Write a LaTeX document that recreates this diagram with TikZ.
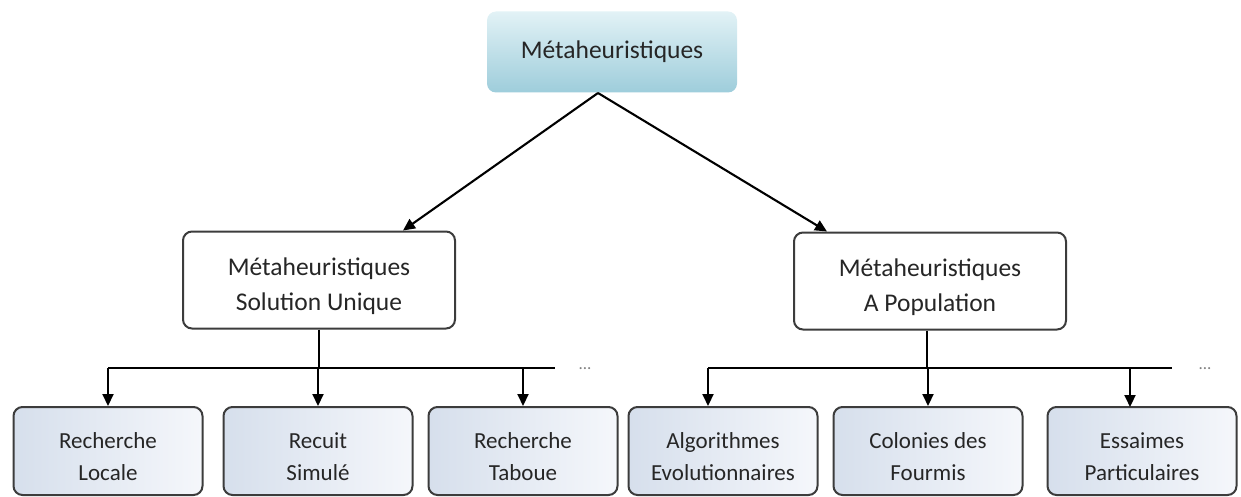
\documentclass[tikz,border=0pt]{standalone}
\usepackage{fontspec}
\setmainfont{Carlito}
\usetikzlibrary{arrows.meta}
\definecolor{edge}{HTML}{3C3C3C}
\definecolor{ink}{HTML}{262626}
\definecolor{rootTop}{HTML}{E2F2F6}
\definecolor{rootBot}{HTML}{9ECDDB}
\definecolor{leafL}{HTML}{D6DFEC}
\definecolor{leafR}{HTML}{F5F7FB}
% taller first line so that two-line labels sit a little low in their boxes
\newcommand\lowerA{\rule{0pt}{30pt}}
\newcommand\lowerB{\rule{0pt}{28pt}}
\tikzset{
  box/.style={draw=edge, line width=2pt, rounded corners=9pt, align=center,
    text=ink, inner sep=0pt},
  rootbox/.style={box, draw=none, top color=rootTop, bottom color=rootBot,
    minimum width=250pt, minimum height=81pt, font=\fontsize{25.5}{30}\selectfont},
  midbox/.style={box, fill=white, minimum width=272pt, minimum height=97pt,
    font=\fontsize{25.5}{35}\selectfont},
  leafbox/.style={box, left color=leafL, right color=leafR,
    minimum width=189pt, minimum height=88pt, font=\fontsize{23}{32}\selectfont},
  link/.style={draw=black, line width=2.1pt},
  arr/.style={link, -{Triangle[width=11pt,length=12pt]}},
  dots/.style={text=gray, font=\fontsize{17}{17}\selectfont}
}
\begin{document}
\begin{tikzpicture}[x=1pt, y=-1pt]
  \useasboundingbox (0,0) rectangle (1241,497);

  % root and the two families
  \node[rootbox] (root) at (612,52) {Métaheuristiques};
  \node[midbox] (single) at (319,280) {\lowerA Métaheuristiques\\Solution Unique};
  \node[midbox] (pop) at (930,281) {\lowerA Métaheuristiques\\A Population};

  % individual methods
  \node[leafbox] (rl) at (108,451) {\lowerB Recherche\\Locale};
  \node[leafbox] (rs) at (318,451) {\lowerB Recuit\\Simulé};
  \node[leafbox] (rt) at (523,451) {\lowerB Recherche\\Taboue};
  \node[leafbox] (ae) at (723,451) {\lowerB Algorithmes\\Evolutionnaires};
  \node[leafbox] (cf) at (928,451) {\lowerB Colonies des\\Fourmis};
  \node[leafbox] (ep) at (1142,451) {\lowerB Essaimes\\Particulaires};

  % branches from the root
  \coordinate (apex) at (598,93);
  \draw[arr] (apex) -- (single.north east -| 403,0);
  \draw[arr] (apex) -- (pop.north west -| 827,0);

  % bus under the single-solution family
  \coordinate (busL) at (108,368);
  \coordinate (busLend) at (555,368);
  \draw[link] (single.south) -- (single.south |- busL);
  \draw[link] (busL) -- (busLend);
  \draw[arr] (busL) -- (rl.north);
  \draw[arr] (rs.north |- busL) -- (rs.north);
  \draw[arr] (rt.north |- busL) -- (rt.north);
  \node[dots] (moreL) at (585,369) {...};

  % bus under the population family
  \coordinate (busR) at (708,368);
  \coordinate (busRend) at (1172,368);
  \draw[link] (pop.south -| 927,0) -- (927,368);
  \draw[link] (busR) -- (busRend);
  \draw[arr] (busR) -- (busR |- ae.north);
  \draw[arr] (cf.north |- busR) -- (cf.north);
  \draw[arr] (1130,368) -- (1130,407);
  \node[dots] (moreR) at (1205,369) {...};
\end{tikzpicture}
\end{document}
